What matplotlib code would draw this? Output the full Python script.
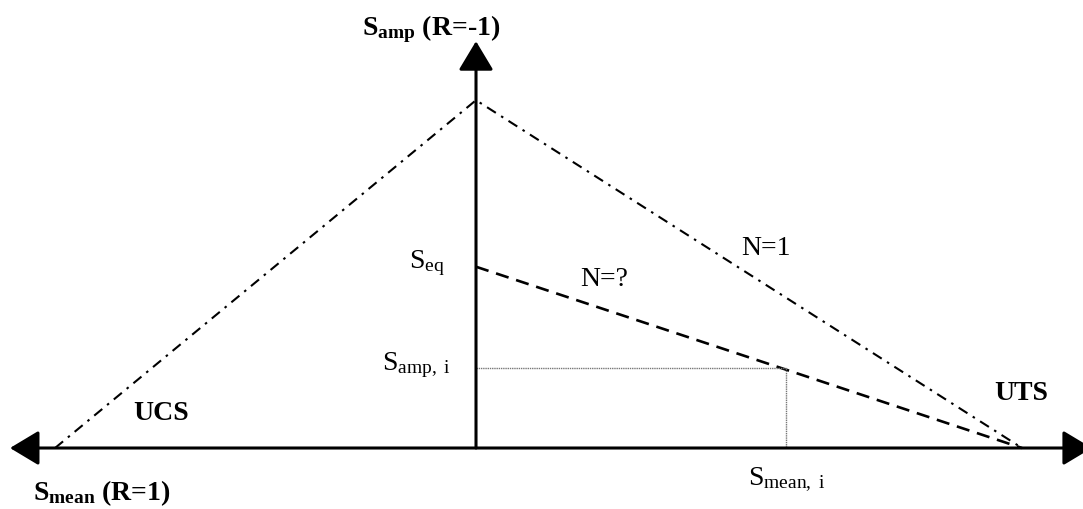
import matplotlib.pyplot as plt

plt.rcParams['font.family'] = ['Liberation Serif', 'DejaVu Serif']
plt.rcParams['mathtext.fontset'] = 'custom'
plt.rcParams['mathtext.rm'] = 'Liberation Serif'
plt.rcParams['mathtext.bf'] = 'Liberation Serif:bold'
plt.rcParams['mathtext.it'] = 'Liberation Serif:italic'

# stress values, normalised so that UTS = 1
ucs = -0.771          # compressive strength (left end)
uts = 1.0             # tensile strength (right end)
s_amp_r1 = 0.637      # amplitude at R=-1 for N=1
s_eq = 0.332          # equivalent amplitude at R=-1
s_mean_i = 0.567
s_amp_i = 0.146

# N=1 envelope and N=? line
n1_x = [ucs, 0, uts]
n1_y = [0, s_amp_r1, 0]
nq_x = [0, uts]
nq_y = [s_eq, 0]

fig = plt.figure(figsize=(10.83, 5.09), dpi=100)
ax = fig.add_axes([0, 0, 1, 1])
ax.set_xlim(-0.8718, 1.1117)
ax.set_ylim(-0.1117, 0.8205)
ax.axis('off')

# axes with arrow heads
arrow = dict(arrowstyle='<|-|>,head_length=0.4,head_width=0.24', mutation_scale=45,
             lw=2.2, color='black', shrinkA=0, shrinkB=0)
ax.annotate('', xy=(1.128, 0), xytext=(-0.8535, 0), arrowprops=arrow,
            annotation_clip=False)
arrow_up = dict(arrow, arrowstyle='-|>,head_length=0.4,head_width=0.24')
ax.annotate('', xy=(0, 0.745), xytext=(0, 0), arrowprops=arrow_up,
            annotation_clip=False)

# lines
ax.plot(n1_x, n1_y, color='black', lw=1.5, linestyle=(0, (5, 3, 1.2, 3)))
ax.plot(nq_x, nq_y, color='black', lw=1.9, linestyle=(0, (5, 3)))
ax.plot([0, s_mean_i], [s_amp_i, s_amp_i], color='#777777', lw=1.0, linestyle=(0, (1, 0.6)))
ax.plot([s_mean_i, s_mean_i], [s_amp_i, 0], color='#777777', lw=1.0, linestyle=(0, (1, 0.6)))

# labels
fs = 20
ax.text(-0.209, 0.756, r'$\mathbf{S_{amp}}$ (R=-1)', fontsize=fs, fontweight='bold',
        ha='left', va='baseline')
ax.text(-0.811, -0.095, r'$\mathbf{S_{mean}}$ (R=1)', fontsize=fs, fontweight='bold',
        ha='left', va='baseline')
ax.text(-0.628, 0.051, 'UCS', fontsize=fs, fontweight='bold', ha='left', va='baseline')
ax.text(0.950, 0.088, 'UTS', fontsize=fs, fontweight='bold', ha='left', va='baseline')
ax.text(0.486, 0.354, 'N=1', fontsize=fs, ha='left', va='baseline')
ax.text(0.190, 0.297, 'N=?', fontsize=fs, ha='left', va='baseline')
ax.text(-0.123, 0.330, r'$\mathrm{S_{eq}}$', fontsize=fs, ha='left', va='baseline')
ax.text(-0.172, 0.143, r'$\mathrm{S_{amp,\ i}}$', fontsize=fs, ha='left', va='baseline')
ax.text(0.498, -0.068, r'$\mathrm{S_{mean,\ i}}$', fontsize=fs, ha='left', va='baseline')

fig.savefig('out.png', dpi=100)
